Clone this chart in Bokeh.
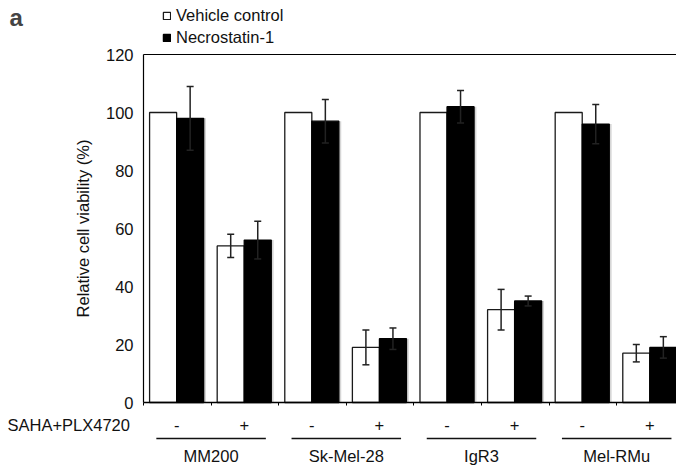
from bokeh.plotting import figure
from bokeh.models import (ColumnDataSource, Range1d, FixedTicker, Whisker, TeeHead,
                          Label, LabelSet, Legend, LegendItem)
from bokeh.core.properties import value
from bokeh.embed import file_html
from bokeh.resources import INLINE

# ---------------- data ----------------
cell_lines = ["MM200", "Sk-Mel-28", "IgR3", "Mel-RMu"]
treatment = ["-", "+", "-", "+", "-", "+", "-", "+"]
vehicle = [100, 54, 100, 19, 100, 32, 100, 17]
vehicle_err = [0, 4, 0, 6, 0, 7, 0, 3]
necro = [98, 56, 97, 22, 102, 35, 96, 19]
necro_err = [11, 6.5, 7.5, 3.7, 5.6, 1.7, 6.8, 3.7]
y_ticks = [0, 20, 40, 60, 80, 100, 120]
series_names = ["Vehicle control", "Necrostatin-1"]
treatment_title = "SAHA+PLX4720"
y_title = "Relative cell viability (%)"
panel_letter = "a"

# ---------------- layout ----------------
FONT = "Liberation Sans"
FS = "16.5px"
TXT = "#111111"
W, H = 676, 466
AX_X, AX_TOP, AX_BOTTOM = 143, 54, 402     # pixel position of the plot box
SLOT_PX = 67.6
Y_MAX = 120
PX_PER_UNIT = (AX_BOTTOM - AX_TOP) / Y_MAX

# the frame covers the whole canvas so nothing gets clipped
x_start = -AX_X / SLOT_PX
x_end = (W - AX_X) / SLOT_PX
y_start = -(H - AX_BOTTOM) / PX_PER_UNIT
y_end = AX_BOTTOM / PX_PER_UNIT


def sx(px):
    return px


def sy(py):
    return H - py


slots = list(range(len(vehicle)))
BAR_W = 0.4
xw = [s + 0.29 for s in slots]
xb = [s + 0.69 for s in slots]
xc = [s + 0.49 for s in slots]

p = figure(width=W, height=H, output_backend="svg", toolbar_location=None,
           x_range=Range1d(x_start, x_end), y_range=Range1d(y_start, y_end),
           min_border_left=0, min_border_right=0, min_border_top=0,
           min_border_bottom=0)
p.outline_line_color = None
p.grid.visible = False
p.background_fill_color = "white"
p.border_fill_color = "white"

src = ColumnDataSource(dict(xw=xw, xb=xb, xs=[x + 0.035 for x in xb],
                            vehicle=vehicle, necro=necro))

# soft shadow to the right of the black bars
p.vbar(x="xs", top="necro", width=BAR_W, source=src, fill_color="#c4c4c4",
       fill_alpha=0.7, line_color=None)
r_w = p.vbar(x="xw", top="vehicle", width=BAR_W, source=src, fill_color="white",
             line_color="#1a1a1a", line_width=1.3)
r_b = p.vbar(x="xb", top="necro", width=BAR_W, source=src, fill_color="black",
             line_color="black", line_width=1.3)


# error bars
def add_whiskers(xs, vals, errs):
    idx = [i for i, e in enumerate(errs) if e > 0]
    s = ColumnDataSource(dict(base=[xs[i] for i in idx],
                              lower=[vals[i] - errs[i] for i in idx],
                              upper=[vals[i] + errs[i] for i in idx]))
    w = Whisker(base="base", lower="lower", upper="upper", source=s,
                line_color="#222222", line_width=1.5, level="overlay",
                upper_head=TeeHead(size=7, line_color="#222222", line_width=1.5),
                lower_head=TeeHead(size=7, line_color="#222222", line_width=1.5))
    p.add_layout(w)


add_whiskers(xw, vehicle, vehicle_err)
add_whiskers(xb, necro, necro_err)

# top border of the plot box
p.segment(x0=[0], y0=[Y_MAX], x1=[x_end], y1=[Y_MAX], line_color="black",
          line_width=1.2)

# axes placed at data positions inside the frame
p.yaxis.fixed_location = 0
p.yaxis.bounds = (0, Y_MAX)
p.yaxis.ticker = FixedTicker(ticks=y_ticks)
p.yaxis.major_tick_out = 0
p.yaxis.major_tick_in = 0
p.yaxis.minor_tick_line_color = None
p.yaxis.axis_line_color = "black"
p.yaxis.axis_line_width = 1.2
p.yaxis.major_label_text_font = FONT
p.yaxis.major_label_text_font_size = FS
p.yaxis.major_label_text_color = TXT
p.yaxis.major_label_standoff = 10
p.yaxis.axis_label = y_title
p.yaxis.axis_label_text_font = FONT
p.yaxis.axis_label_text_font_size = FS
p.yaxis.axis_label_text_font_style = "normal"
p.yaxis.axis_label_text_color = TXT
p.yaxis.axis_label_standoff = 11

p.xaxis.fixed_location = 0
p.xaxis.bounds = (0, x_end)
p.xaxis.ticker = FixedTicker(ticks=slots + [len(slots)])
p.xaxis.major_tick_out = 3
p.xaxis.major_tick_in = 0
p.xaxis.major_tick_line_color = "black"
p.xaxis.minor_tick_line_color = None
p.xaxis.axis_line_color = "black"
p.xaxis.axis_line_width = 1.5
p.xaxis.major_label_overrides = {t: "" for t in slots + [len(slots)]}

# legend
legend = Legend(items=[LegendItem(label=series_names[0], renderers=[r_w]),
                       LegendItem(label=series_names[1], renderers=[r_b])],
                location=(sx(162), sy(47)), glyph_width=9, glyph_height=9,
                label_text_font=FONT, label_text_font_size=FS,
                label_text_color=TXT, label_standoff=5, label_height=20,
                padding=0, margin=0, spacing=2, border_line_color=None,
                background_fill_alpha=0)
p.add_layout(legend)

# panel letter
p.add_layout(Label(x=sx(9), y=sy(17), x_units="screen", y_units="screen",
                   text=panel_letter, text_font=FONT, text_font_size="24px",
                   text_font_style="bold", text_baseline="middle"))

# treatment row
p.add_layout(Label(x=sx(7), y=sy(424), x_units="screen", y_units="screen",
                   text=treatment_title, text_font=FONT, text_font_size=FS,
                   text_color=TXT, text_baseline="middle"))
tsrc = ColumnDataSource(dict(x=xc, text=treatment))
p.add_layout(LabelSet(x="x", y=sy(424), y_units="screen", text="text", source=tsrc,
                      text_font=value(FONT), text_font_size=value(FS),
                      text_color=TXT, text_align="center", text_baseline="middle"))

# group underlines and names
ng = len(cell_lines)
gx = [2 * g + 1 for g in range(ng)]
usrc = ColumnDataSource(dict(base=[sy(438)] * ng,
                             lower=[2 * g + 0.19 for g in range(ng)],
                             upper=[2 * g + 1.81 for g in range(ng)]))
p.add_layout(Whisker(base="base", lower="lower", upper="upper", source=usrc,
                     dimension="width", base_units="screen",
                     line_color=TXT, line_width=1.5,
                     lower_head=None, upper_head=None))
gsrc = ColumnDataSource(dict(x=gx, text=cell_lines))
p.add_layout(LabelSet(x="x", y=sy(455), y_units="screen", text="text", source=gsrc,
                      text_font=value(FONT), text_font_size=value(FS),
                      text_color=TXT, text_align="center", text_baseline="middle"))

open("out.html", "w").write(file_html(p, INLINE))
